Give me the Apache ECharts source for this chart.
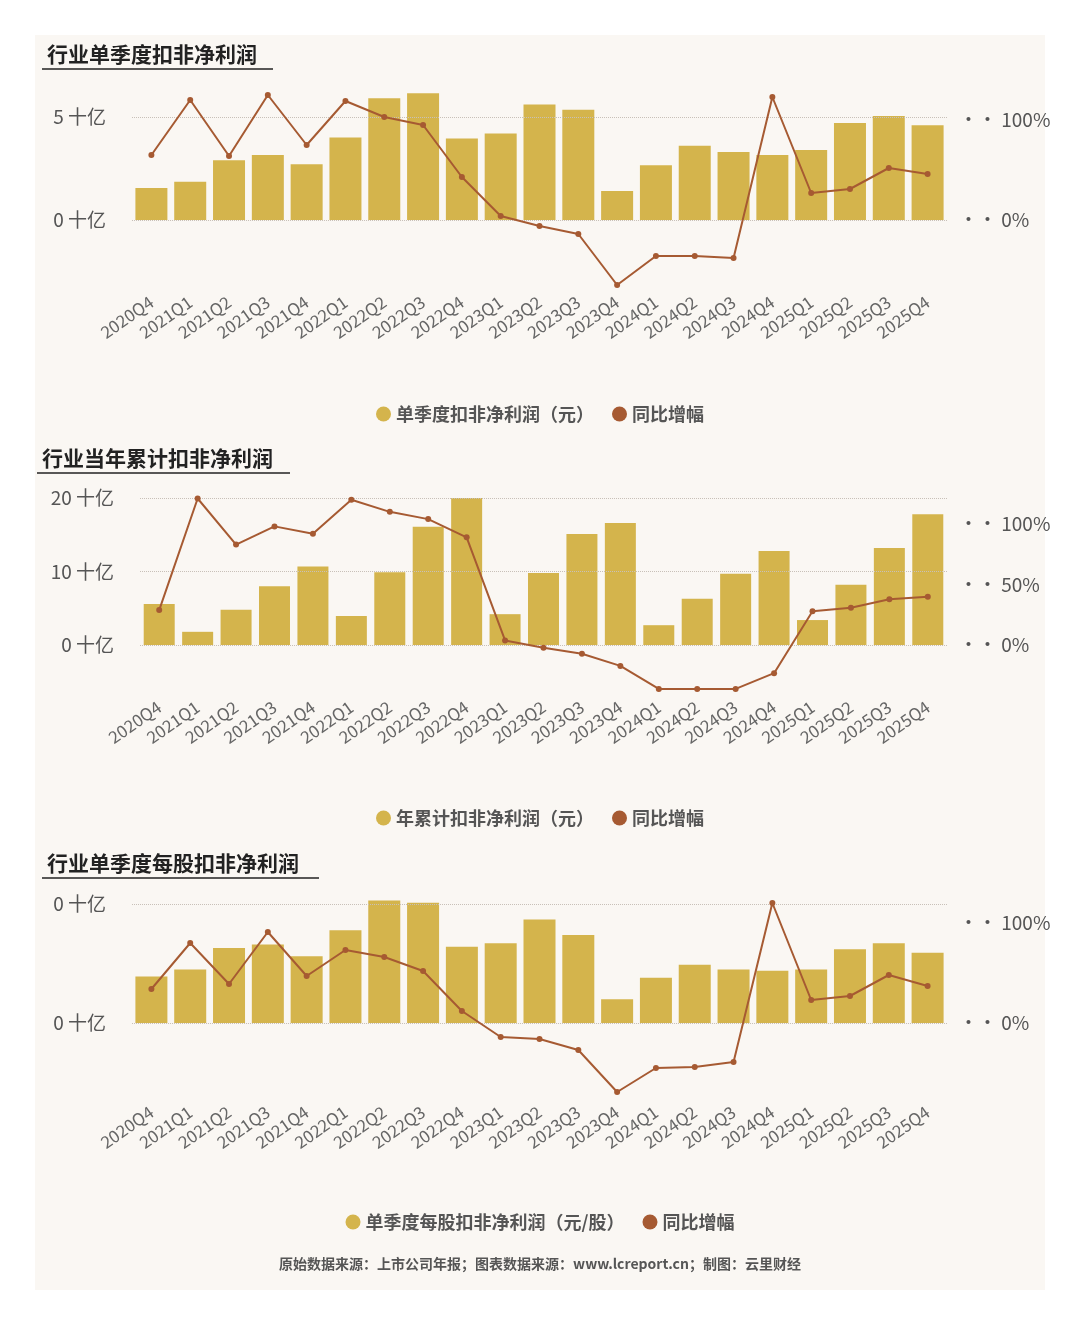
<!DOCTYPE html>
<html>
<head>
<meta charset="utf-8">
<script src="https://cdn.jsdelivr.net/npm/echarts@6/dist/echarts.min.js"></script>
<style>
html,body{margin:0;padding:0;background:#fff;}
#main{width:1080px;height:1325px;}
</style>
</head>
<body>
<div id="main"></div>
<script>
// 季度
var quarters = ['2020Q4','2021Q1','2021Q2','2021Q3','2021Q4','2022Q1','2022Q2','2022Q3','2022Q4',
  '2023Q1','2023Q2','2023Q3','2023Q4','2024Q1','2024Q2','2024Q3','2024Q4','2025Q1','2025Q2','2025Q3','2025Q4'];

// 单季度扣非净利润（十亿元）及同比
var qProfit = [1.55,1.85,2.9,3.15,2.7,4.0,5.9,6.15,3.95,4.2,5.6,5.35,1.4,2.65,3.6,3.3,3.15,3.4,4.7,5.05,4.6];
var qProfitYoy = [65,120,64,125,75,119,103,95,43,4,-6,-14,-65,-36,-36,-38,123,27,31,52,46];

// 年累计扣非净利润（十亿元）及同比
var ytdProfit = [5.6,1.8,4.8,8.0,10.7,3.95,9.9,16.1,20,4.2,9.8,15.1,16.6,2.7,6.3,9.7,12.8,3.4,8.2,13.2,17.8];
var ytdProfitYoy = [29,121,83,98,92,120,110,104,89,4,-2,-7,-17,-36,-36,-36,-23,28,31,38,40];

// 单季度每股扣非净利润及同比
var epsProfit = [0.39,0.45,0.63,0.66,0.56,0.78,1.03,1.01,0.64,0.67,0.87,0.74,0.20,0.38,0.49,0.45,0.44,0.45,0.62,0.67,0.59];
var epsProfitYoy = [34,80,39,91,47,73,66,52,12,-14,-16,-27,-69,-45,-44,-39,120,23,27,48,37];

var barColor = '#d4b44c';
var lineColor = '#a65a32';
var font = 'Noto Sans CJK SC';

var myChart = echarts.init(document.getElementById('main'));

var grids = [], xAxes = [], yAxes = [], series = [], legends = [], titles = [], graphics = [];

graphics.push({type:'rect', shape:{x:35,y:35,width:1010,height:1255}, style:{fill:'#faf7f3'}, z:-10});

function addChart(i, cfg){
  grids.push({left:cfg.left, right:cfg.right, top:cfg.top, height:cfg.height});
  xAxes.push({
    type:'category', gridIndex:i, data:quarters,
    axisLine:{show:false}, axisTick:{show:false},
    axisLabel:{interval:0, rotate:35, color:'#666', fontSize:17, fontFamily:font, margin:10}
  });
  yAxes.push({
    type:'value', gridIndex:i, min:cfg.lmin, max:cfg.lmax,
    splitLine:{show:false}, axisLine:{show:false}, axisTick:{show:false},
    axisLabel:{customValues:cfg.lticks, color:'#555', fontSize:19, fontFamily:font, margin:cfg.lmargin,
      formatter:cfg.lfmt || function(v){return v + ' 十亿';}}
  });
  yAxes.push({
    type:'value', gridIndex:i, position:'right', min:cfg.rmin, max:cfg.rmax,
    splitLine:{show:false}, axisLine:{show:false}, axisTick:{show:false},
    axisLabel:{customValues:cfg.rticks, color:'#555', fontSize:19, fontFamily:font, margin:cfg.rmargin,
      formatter:function(v){return '·· ' + v + '%';}}
  });
  series.push({
    name:cfg.barName, type:'bar', xAxisIndex:i, yAxisIndex:2*i, data:cfg.bars,
    barWidth:cfg.barWidth, itemStyle:{color:barColor},
    markLine:{silent:true, symbol:'none', label:{show:false},
      lineStyle:{type:'dotted', color:'#c8c0b8', width:1},
      data:cfg.gridVals.map(function(v){return {yAxis:v};})}
  });
  series.push({
    name:'同比增幅', type:'line', xAxisIndex:i, yAxisIndex:2*i+1, data:cfg.line,
    symbol:'circle', symbolSize:6, itemStyle:{color:lineColor}, lineStyle:{color:lineColor, width:2}, z:5
  });
  legends.push({
    top:cfg.legendTop, left:'center', data:[cfg.barName,'同比增幅'], icon:'circle',
    itemWidth:15, itemHeight:15, itemGap:18,
    textStyle:{color:'#555', fontSize:18, fontWeight:'bold', fontFamily:font}
  });
  titles.push({
    text:cfg.title, left:cfg.titleX, top:cfg.titleY,
    textStyle:{color:'#222', fontSize:21, fontWeight:'bold', fontFamily:font}
  });
  graphics.push({type:'line', shape:{x1:cfg.titleX, y1:cfg.titleY+30, x2:cfg.titleX+cfg.titleW, y2:cfg.titleY+30},
    style:{stroke:'#222', lineWidth:1.5}});
}

addChart(0, {
  left:132, right:133, top:86, height:204,
  lmin:-3.4, lmax:6.5, lticks:[0,5], lmargin:26, gridVals:[0,5],
  rmin:-70, rmax:134, rticks:[0,100], rmargin:12,
  bars:qProfit, line:qProfitYoy, barWidth:32,
  barName:'单季度扣非净利润（元）', legendTop:400,
  title:'行业单季度扣非净利润', titleX:42, titleY:39, titleW:231
});
addChart(1, {
  left:140, right:133, top:490, height:205,
  lmin:-6.8, lmax:21.1, lticks:[0,10,20], lmargin:26, gridVals:[0,10,20],
  rmin:-41, rmax:128, rticks:[0,50,100], rmargin:12,
  bars:ytdProfit, line:ytdProfitYoy, barWidth:31,
  barName:'年累计扣非净利润（元）', legendTop:804,
  title:'行业当年累计扣非净利润', titleX:37, titleY:443, titleW:253
});
addChart(2, {
  left:132, right:133, top:896, height:204,
  lmin:-0.647, lmax:1.067, lticks:[0,1], lmargin:26, gridVals:[0,1],
  lfmt:function(v){return '0 十亿';},
  rmin:-77, rmax:127, rticks:[0,100], rmargin:12,
  bars:epsProfit, line:epsProfitYoy, barWidth:32,
  barName:'单季度每股扣非净利润（元/股）', legendTop:1208,
  title:'行业单季度每股扣非净利润', titleX:42, titleY:848, titleW:277
});

graphics.push({type:'text', left:'center', top:1257,
  style:{text:'原始数据来源：上市公司年报；图表数据来源：www.lcreport.cn；制图：云里财经',
    fill:'#555', font:'bold 14px "Noto Sans CJK SC"'}});

var option = {
  backgroundColor:'#fff',
  animation:false,
  title:titles,
  legend:legends,
  grid:grids,
  xAxis:xAxes,
  yAxis:yAxes,
  series:series,
  graphic:graphics
};
myChart.setOption(option);
</script>
</body>
</html>
